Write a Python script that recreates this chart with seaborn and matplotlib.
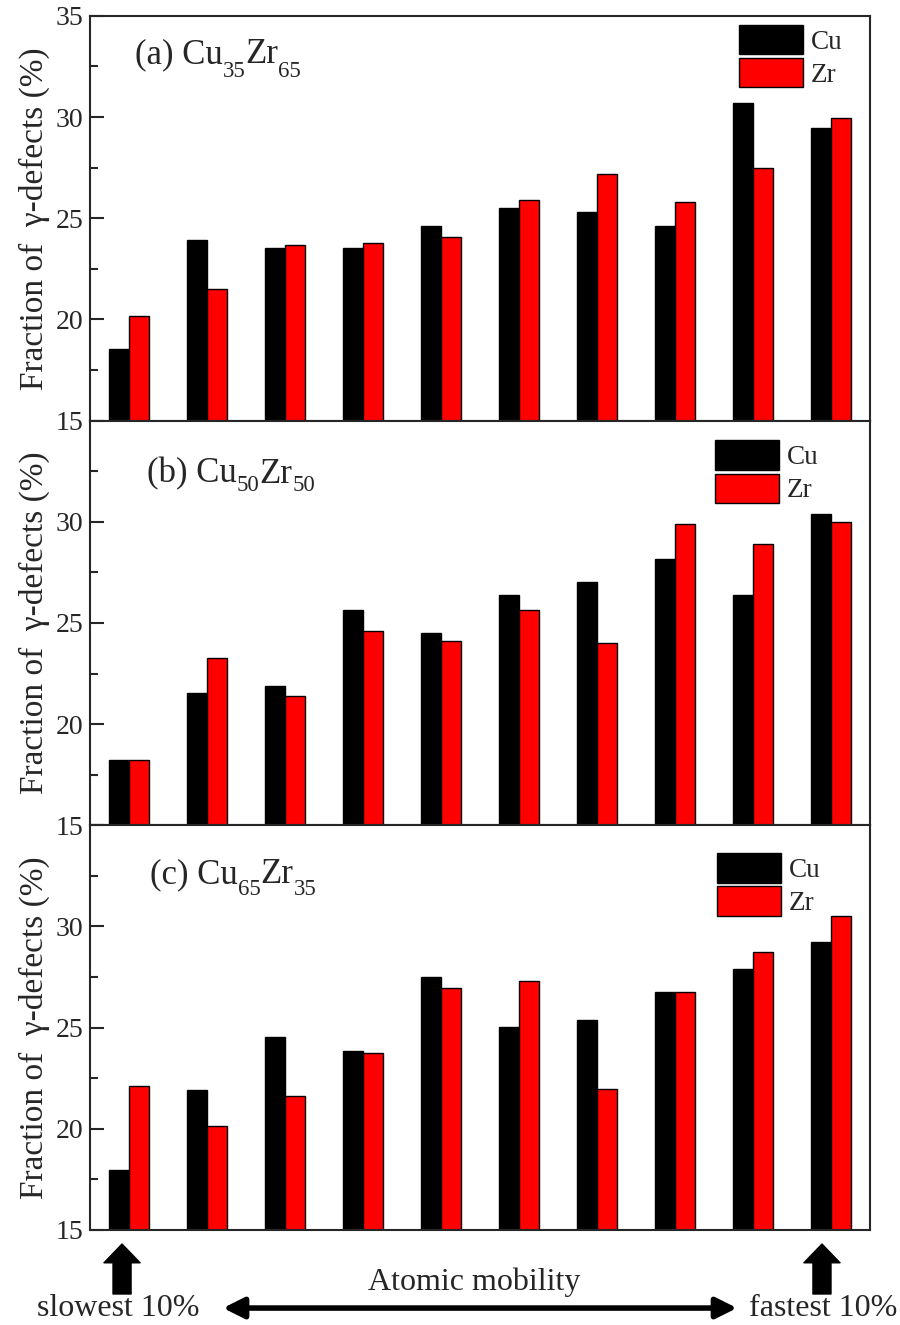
import numpy as np
import matplotlib
matplotlib.use('Agg')
from matplotlib import pyplot as plt
from matplotlib.transforms import offset_copy
from matplotlib.patches import FancyArrowPatch
import pandas as pd
import seaborn as sns

# fraction of gamma-defects (%), groups ordered from slowest to fastest 10%
groups = list(range(1, 11))
cu_a = [18.55, 23.92, 23.54, 23.54, 24.62, 25.51, 25.33, 24.60, 30.70, 29.46]
zr_a = [20.15, 21.50, 23.69, 23.80, 24.09, 25.90, 27.18, 25.81, 27.46, 29.97]
cu_b = [18.25, 21.52, 21.90, 25.64, 24.52, 26.40, 27.01, 28.15, 26.40, 30.38]
zr_b = [18.25, 23.25, 21.39, 24.62, 24.12, 25.63, 24.00, 29.89, 28.88, 30.00]
cu_c = [17.98, 21.93, 24.53, 23.85, 27.52, 25.02, 25.38, 26.74, 27.90, 29.25]
zr_c = [22.13, 20.16, 21.60, 23.75, 26.94, 27.30, 21.96, 26.77, 28.76, 30.53]
panel_tags = ['(a) ', '(b) ', '(c) ']
cu_sub = ['35', '50', '65']
zr_sub = ['65', '50', '35']

sns.set_style('ticks')
plt.rcParams['font.family'] = ['Liberation Serif', 'DejaVu Serif']

fig, axes = plt.subplots(3, 1, figsize=(9, 13.25), dpi=100, sharex=True)
fig.subplots_adjust(left=0.1, right=0.967, top=0.988, bottom=0.0717, hspace=0)
renderer = fig.canvas.get_renderer()


def rich_text(ax, x, y, pieces):
    # pieces: (text, fontsize, vertical shift in px)
    xoff = 0
    for s, size, dy in pieces:
        tr = offset_copy(ax.transAxes, fig=fig, x=xoff, y=dy, units='dots')
        t = ax.text(x, y, s, fontsize=size, transform=tr, va='baseline', ha='left')
        xoff += t.get_window_extent(renderer).width


panels = [(cu_a, zr_a), (cu_b, zr_b), (cu_c, zr_c)]
title_pos = [(0.0577, 0.884), (0.073, 0.847), (0.077, 0.857)]
sub_drop = [14, 8, 12]
leg_pos = [(0.832, 0.978), (0.801, 0.951), (0.804, 0.931)]

for i, ax in enumerate(axes):
    cu, zr = panels[i]
    df = pd.DataFrame({'group': groups * 2,
                       'element': ['Cu'] * 10 + ['Zr'] * 10,
                       'value': cu + zr})
    sns.barplot(data=df, x='group', y='value', hue='element',
                palette={'Cu': 'black', 'Zr': '#ff0000'}, saturation=1, width=0.51,
                edgecolor='black', linewidth=1, ax=ax)
    ax.set_ylim(15, 35)
    ax.set_xlim(-0.5, 9.5)
    labels = ['15', '20', '25', '30', '35' if i == 0 else '']
    ax.set_yticks([15, 20, 25, 30, 35], labels)
    ax.set_yticks([17.5, 22.5, 27.5, 32.5], minor=True)
    ax.tick_params(axis='y', which='major', direction='in', length=10, width=1.5, labelsize=20, pad=5)
    ax.tick_params(axis='y', which='minor', direction='in', length=6, width=1.5)
    ax.tick_params(axis='x', bottom=False, labelbottom=False)
    ax.set_xlabel('')
    ax.set_ylabel('Fraction of  \u03b3-defects (%)', fontsize=24, labelpad=4)
    for sp in ax.spines.values():
        sp.set_linewidth(1.5)
    d = sub_drop[i]
    rich_text(ax, title_pos[i][0], title_pos[i][1],
              [(panel_tags[i] + 'Cu', 25, 0), (cu_sub[i], 16.5, -d),
               ('Zr', 25, 0), (zr_sub[i], 16.5, -d)])
    h, l = ax.get_legend_handles_labels()
    ax.legend(h, l, loc='upper left', bbox_to_anchor=leg_pos[i], frameon=False,
              fontsize=19.5, handlelength=2.35, handleheight=1.3, labelspacing=0.12,
              handletextpad=0.3, borderpad=0, borderaxespad=0)

ax3 = axes[2]
# up arrows under the slowest and fastest groups
for fx in [0.1356, 0.9133]:
    ax3.annotate('', xy=(fx, 0.0611), xytext=(fx, 0.0234),
                 xycoords='figure fraction', textcoords='figure fraction',
                 arrowprops=dict(facecolor='black', edgecolor='black', width=13,
                                 headwidth=26, headlength=13.5, shrink=0),
                 annotation_clip=False)

fig.text(0.1311, 0.0128, 'slowest 10%', fontsize=23, ha='center', va='center')
fig.text(0.9150, 0.0128, 'fastest 10%', fontsize=23, ha='center', va='center')
fig.text(0.5270, 0.0325, 'Atomic mobility', fontsize=23, ha='center', va='center')
fig.add_artist(FancyArrowPatch((0.2478, 0.0128), (0.8189, 0.0128),
                               transform=fig.transFigure,
                               arrowstyle='<|-|>,head_length=0.5,head_width=0.25',
                               mutation_scale=25, lw=4, color='black',
                               shrinkA=0, shrinkB=0))

plt.savefig('out.png', dpi=100)
plt.close()
